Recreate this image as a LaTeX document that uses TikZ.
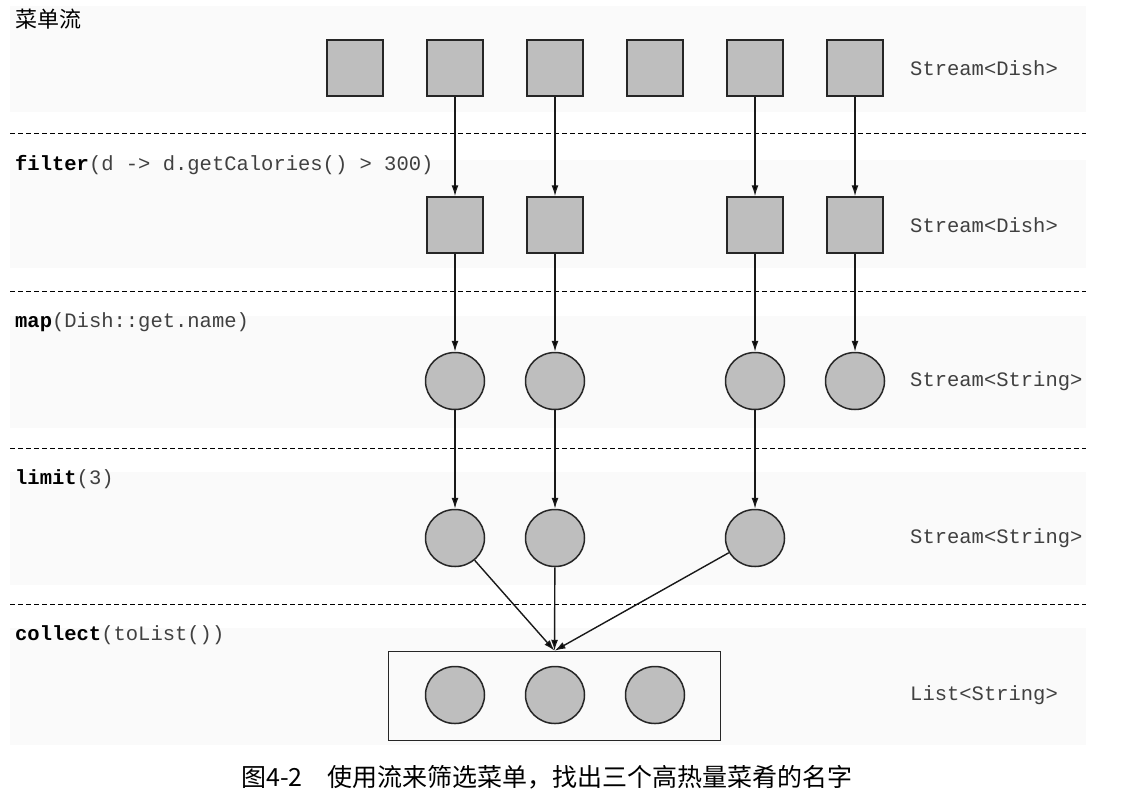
\documentclass[tikz,border=0pt]{standalone}
\usepackage{fontspec}
\setmonofont{Liberation Mono}
\newfontfamily\cjk{Noto Sans CJK SC}
\usetikzlibrary{arrows.meta,shapes.geometric}
\definecolor{dishgray}{HTML}{BEBEBE}
\definecolor{bandgray}{HTML}{FAFAFA}

\begin{document}
\begin{tikzpicture}[x=1pt,y=-1pt,>={Latex[length=11pt,width=7pt]},
  dish/.style={rectangle,draw=black!85,fill=dishgray,line width=1.5pt,minimum size=56pt},
  dname/.style={ellipse,draw=black!85,fill=dishgray,line width=1.5pt,minimum width=59pt,minimum height=57pt},
  op/.style={anchor=west,inner sep=0pt,text=black!75,font=\ttfamily\fontsize{20.5}{24}\selectfont},
  sep/.style={dash pattern=on 5pt off 3pt,line width=1pt},
  band/.style={fill=bandgray,draw=none}]
  \useasboundingbox (0,0) rectangle (1121,801);

  % faint rows behind each step
  \fill[band] (10,6) rectangle (1086,112);
  \fill[band] (10,160) rectangle (1086,268);
  \fill[band] (10,316) rectangle (1086,428);
  \fill[band] (10,472) rectangle (1086,585);
  \fill[band] (10,628) rectangle (1086,745);

  \draw[sep] (10,133) -- (1086,133);
  \draw[sep] (10,291) -- (1086,291);
  \draw[sep] (10,448) -- (1086,448);
  \draw[sep] (10,604) -- (1086,604);

  % menu
  \node[anchor=west,inner sep=0pt,font=\cjk\fontsize{22}{26}\selectfont] (menu) at (15,19) {菜单流};
  \node[dish] (s1) at (355,68) {};
  \node[dish] (s2) at (455,68) {};
  \node[dish] (s3) at (555,68) {};
  \node[dish] (s4) at (655,68) {};
  \node[dish] (s5) at (755,68) {};
  \node[dish] (s6) at (855,68) {};
  \node[op] (t1) at (910,68) {Stream<Dish>};

  % filter
  \node[op] (opfilter) at (15,165) {\textbf{\color{black}filter}(d -> d.getCalories() > 300)};
  \node[dish] (f2) at (455,225) {};
  \node[dish] (f3) at (555,225) {};
  \node[dish] (f5) at (755,225) {};
  \node[dish] (f6) at (855,225) {};
  \node[op] (t2) at (910,225) {Stream<Dish>};

  % map
  \node[op] (opmap) at (15,322) {\textbf{\color{black}map}(Dish::get.name)};
  \node[dname] (m2) at (455,381) {};
  \node[dname] (m3) at (555,381) {};
  \node[dname] (m5) at (755,381) {};
  \node[dname] (m6) at (855,381) {};
  \node[op] (t3) at (910,381) {Stream<String>};

  % limit
  \node[op] (oplimit) at (15,479) {\textbf{\color{black}limit}(3)};
  \node[dname] (l2) at (455,538) {};
  \node[dname] (l3) at (555,538) {};
  \node[dname] (l5) at (755,538) {};
  \node[op] (t4) at (910,538) {Stream<String>};

  % collect
  \node[op] (opcollect) at (15,635) {\textbf{\color{black}collect}(toList())};
  \node[draw=black!85,line width=1.5pt,minimum width=332pt,minimum height=89pt,inner sep=0pt] (lst) at (554.5,696) {};
  \node[dname] (c1) at (455,695) {};
  \node[dname] (c2) at (555,695) {};
  \node[dname] (c3) at (655,695) {};
  \node[op] (t5) at (910,695) {List<String>};

  \path[->,line width=1.4pt,draw=black!90]
    (s2) edge (f2)
    (s3) edge (f3)
    (s5) edge (f5)
    (s6) edge (f6)
    (f2) edge (m2)
    (f3) edge (m3)
    (f5) edge (m5)
    (f6) edge (m6)
    (m2) edge (l2)
    (m3) edge (l3)
    (m5) edge (l5)
    (l2) edge (lst.north)
    (l3) edge (lst.north)
    (l5) edge (lst.north);

  \node[font=\cjk\fontsize{25}{28}\selectfont] (caption) at (547,777) {图4-2\hspace{1em}使用流来筛选菜单，找出三个高热量菜肴的名字};
\end{tikzpicture}
\end{document}
